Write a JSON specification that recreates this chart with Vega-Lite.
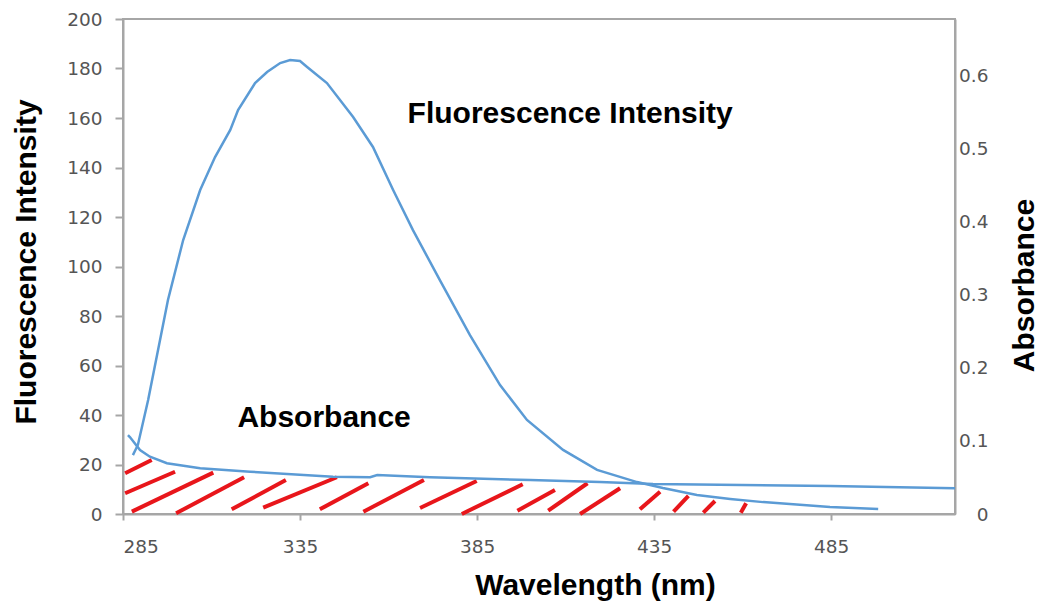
{
  "$schema": "https://vega.github.io/schema/vega-lite/v6.json",
  "width": 832,
  "height": 495,
  "autosize": {"type": "none"},
  "padding": {"left": 123, "top": 19, "right": 89, "bottom": 90},
  "background": "white",
  "config": {
    "view": {"stroke": "#a6a6a6", "strokeWidth": 2},
    "axis": {
      "grid": false,
      "domainColor": "#a6a6a6",
      "domainWidth": 2,
      "tickColor": "#a6a6a6",
      "tickWidth": 2,
      "labelFont": "DejaVu Sans",
      "labelFontSize": 18.5,
      "labelColor": "#555555",
      "titleFont": "Liberation Sans",
      "titleFontSize": 30,
      "titleFontWeight": "bold",
      "titleColor": "#000000"
    }
  },
  "datasets": {
    "fluor": [
      {"nm": 287.8, "intensity": 23.8},
      {"nm": 289.2, "intensity": 27.9},
      {"nm": 292.1, "intensity": 46.1},
      {"nm": 297.7, "intensity": 86.5},
      {"nm": 302.0, "intensity": 110.7},
      {"nm": 306.8, "intensity": 130.9},
      {"nm": 311.0, "intensity": 144.2},
      {"nm": 315.3, "intensity": 155.2},
      {"nm": 317.5, "intensity": 163.2},
      {"nm": 322.3, "intensity": 174.1},
      {"nm": 325.7, "intensity": 178.6},
      {"nm": 329.4, "intensity": 182.2},
      {"nm": 332.2, "intensity": 183.4},
      {"nm": 335.0, "intensity": 183.0},
      {"nm": 337.0, "intensity": 180.6},
      {"nm": 342.6, "intensity": 174.1},
      {"nm": 350.0, "intensity": 160.4},
      {"nm": 355.6, "intensity": 148.3},
      {"nm": 361.3, "intensity": 130.9},
      {"nm": 366.9, "intensity": 114.7},
      {"nm": 374.5, "intensity": 94.5},
      {"nm": 383.0, "intensity": 72.3},
      {"nm": 391.5, "intensity": 52.1},
      {"nm": 399.1, "intensity": 38.0},
      {"nm": 409.3, "intensity": 25.9},
      {"nm": 418.9, "intensity": 17.8},
      {"nm": 430.2, "intensity": 12.9},
      {"nm": 437.5, "intensity": 10.5},
      {"nm": 447.1, "intensity": 7.7},
      {"nm": 456.5, "intensity": 6.1},
      {"nm": 465.8, "intensity": 4.8},
      {"nm": 484.7, "intensity": 2.8},
      {"nm": 498.3, "intensity": 2.0}
    ],
    "absorb": [
      {"nm": 286.4, "absorbance": 0.108},
      {"nm": 287.0, "absorbance": 0.105},
      {"nm": 289.8, "absorbance": 0.0877},
      {"nm": 292.6, "absorbance": 0.0785},
      {"nm": 297.4, "absorbance": 0.0695},
      {"nm": 306.8, "absorbance": 0.0626},
      {"nm": 320.9, "absorbance": 0.0579},
      {"nm": 344.3, "absorbance": 0.0511},
      {"nm": 354.8, "absorbance": 0.0503},
      {"nm": 356.8, "absorbance": 0.0534},
      {"nm": 371.7, "absorbance": 0.0503},
      {"nm": 400.0, "absorbance": 0.0466},
      {"nm": 419.7, "absorbance": 0.0438},
      {"nm": 434.7, "absorbance": 0.0411},
      {"nm": 484.7, "absorbance": 0.0384},
      {"nm": 520.0, "absorbance": 0.0352}
    ],
    "hatch": [
      {"nm": 285.6, "nm2": 293.1, "a": 0.0558, "a2": 0.0740},
      {"nm": 285.6, "nm2": 299.7, "a": 0.0284, "a2": 0.0579},
      {"nm": 287.5, "nm2": 310.5, "a": 0.0032, "a2": 0.0566},
      {"nm": 300.0, "nm2": 319.2, "a": 0.0010, "a2": 0.0503},
      {"nm": 315.7, "nm2": 331.0, "a": 0.0064, "a2": 0.0466},
      {"nm": 324.6, "nm2": 345.4, "a": 0.0086, "a2": 0.0503},
      {"nm": 340.6, "nm2": 354.3, "a": 0.0064, "a2": 0.0421},
      {"nm": 352.9, "nm2": 370.0, "a": 0.0032, "a2": 0.0466},
      {"nm": 368.9, "nm2": 384.9, "a": 0.0082, "a2": 0.0452},
      {"nm": 380.7, "nm2": 397.9, "a": 0.0, "a2": 0.0407},
      {"nm": 396.4, "nm2": 407.0, "a": 0.0045, "a2": 0.0329},
      {"nm": 405.1, "nm2": 416.2, "a": 0.0045, "a2": 0.0421},
      {"nm": 414.1, "nm2": 425.4, "a": 0.0, "a2": 0.0352},
      {"nm": 431.0, "nm2": 436.7, "a": 0.0064, "a2": 0.0305},
      {"nm": 440.5, "nm2": 444.7, "a": 0.0032, "a2": 0.0247},
      {"nm": 448.9, "nm2": 452.2, "a": 0.0018, "a2": 0.0178},
      {"nm": 459.5, "nm2": 461.0, "a": 0.0018, "a2": 0.0147}
    ],
    "notes": [
      {"nm": 411.3, "intensity": 157.9, "label": "Fluorescence Intensity"},
      {"nm": 341.8, "intensity": 35.3, "label": "Absorbance"}
    ]
  },
  "layer": [
    {
      "layer": [
        {
          "data": {"name": "hatch"},
          "mark": {"type": "rule", "color": "#e8161b", "strokeWidth": 4},
          "encoding": {
            "x": {"field": "nm", "type": "quantitative", "scale": {"domain": [285, 520], "nice": false, "zero": false}},
            "x2": {"field": "nm2"},
            "y": {"field": "a", "type": "quantitative", "scale": {"domain": [0, 0.678], "nice": false}},
            "y2": {"field": "a2"}
          }
        },
        {
          "data": {"name": "absorb"},
          "mark": {"type": "line", "color": "#5b9bd5", "strokeWidth": 2.5},
          "encoding": {
            "x": {"field": "nm", "type": "quantitative", "scale": {"domain": [285, 520], "nice": false, "zero": false}},
            "y": {
              "field": "absorbance",
              "type": "quantitative",
              "scale": {"domain": [0, 0.678], "nice": false},
              "axis": {
                "orient": "right",
                "title": "Absorbance",
                "values": [0, 0.1, 0.2, 0.3, 0.4, 0.5, 0.6],
                "format": ".1~f",
                "ticks": false,
                "tickSize": 0,
                "labelAlign": "right",
                "labelPadding": 33,
                "titleAngle": -90,
                "titleAlign": "center",
                "titleBaseline": "alphabetic",
                "titleX": 78,
                "titleY": 266
              }
            }
          }
        }
      ]
    },
    {
      "layer": [
        {
          "data": {"name": "fluor"},
          "mark": {"type": "line", "color": "#5b9bd5", "strokeWidth": 2.5},
          "encoding": {
            "x": {
              "field": "nm",
              "type": "quantitative",
              "scale": {"domain": [285, 520], "nice": false, "zero": false},
              "axis": {
                "title": "Wavelength (nm)",
                "values": [285, 335, 385, 435, 485],
                "tickSize": 6,
                "labelPadding": 17,
                "titleAlign": "center",
                "titleBaseline": "alphabetic",
                "titleX": 472,
                "titleY": 80
              }
            },
            "y": {
              "field": "intensity",
              "type": "quantitative",
              "scale": {"domain": [0, 200], "nice": false},
              "axis": {
                "orient": "left",
                "title": "Fluorescence Intensity",
                "values": [0, 20, 40, 60, 80, 100, 120, 140, 160, 180, 200],
                "tickSize": 8,
                "labelPadding": 13,
                "titleAngle": -90,
                "titleAlign": "center",
                "titleBaseline": "alphabetic",
                "titleX": -88,
                "titleY": 242.5
              }
            }
          }
        },
        {
          "data": {"name": "notes"},
          "mark": {"type": "text", "font": "Liberation Sans", "fontSize": 30, "fontWeight": "bold", "color": "#000000", "align": "center", "baseline": "alphabetic"},
          "encoding": {
            "x": {"field": "nm", "type": "quantitative", "scale": {"domain": [285, 520], "nice": false, "zero": false}},
            "y": {"field": "intensity", "type": "quantitative", "scale": {"domain": [0, 200], "nice": false}},
            "text": {"field": "label", "type": "nominal"}
          }
        }
      ]
    }
  ],
  "resolve": {"scale": {"y": "independent"}}
}
